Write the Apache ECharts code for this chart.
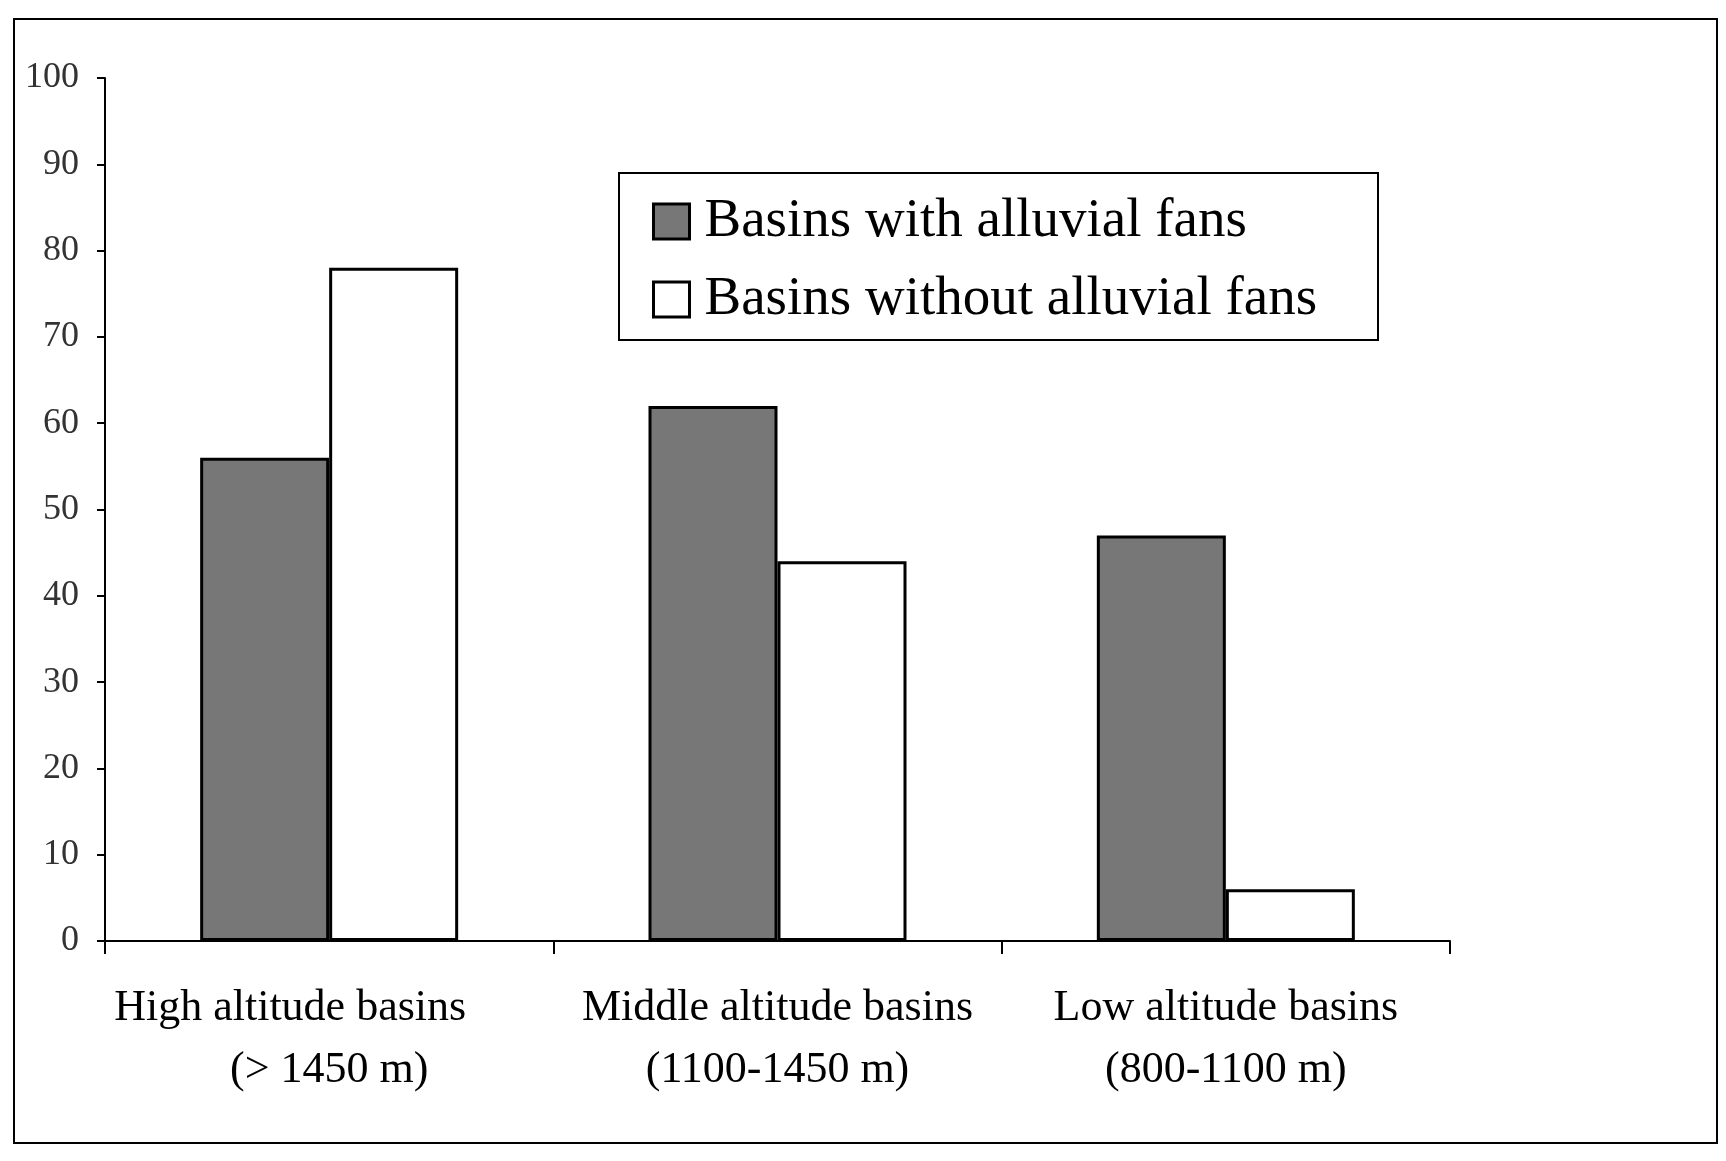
<!DOCTYPE html>
<html><head><meta charset="utf-8">
<script src="https://cdn.jsdelivr.net/npm/echarts@6/dist/echarts.min.js"></script>
<style>html,body{margin:0;padding:0;background:#fff}#c{width:1726px;height:1161px}</style>
</head><body><div id="c"></div>
<script>
const categories = ['High altitude basins\n(> 1450 m)', 'Middle altitude basins\n(1100-1450 m)', 'Low altitude basins\n(800-1100 m)'];
const seriesNames = ['Basins with alluvial fans', 'Basins without alluvial fans'];
const withFans = [56, 62, 47];
const withoutFans = [78, 44, 6];
const yTicks = [0, 10, 20, 30, 40, 50, 60, 70, 80, 90, 100];

const font = '"Liberation Serif", "Times New Roman", serif';
const chart = echarts.init(document.getElementById('c'));
chart.setOption({
  animation: false,
  backgroundColor: '#fff',
  textStyle: { fontFamily: font },
  graphic: [
    { type: 'rect', shape: { x: 14, y: 19, width: 1703, height: 1124 }, style: { fill: 'none', stroke: '#000', lineWidth: 2 }, z: 0 },
    { type: 'rect', shape: { x: 619, y: 173, width: 759, height: 167 }, style: { fill: '#fff', stroke: '#000', lineWidth: 2 }, z: 5 }
  ],
  grid: { left: 105, top: 78, right: 276, bottom: 220, containLabel: false },
  legend: {
    orient: 'vertical', left: 619, top: 173,
    padding: [21, 20, 13, 33],
    itemWidth: 36, itemHeight: 35, itemGap: 23,
    icon: 'rect',
    z: 10,
    itemStyle: { borderColor: '#000', borderWidth: 3 },
    textStyle: { fontFamily: font, fontSize: 55, color: '#000', padding: [0, 0, 0, 10], letterSpacing: 3 },
    data: seriesNames
  },
  xAxis: {
    type: 'category', data: categories,
    axisLine: { lineStyle: { color: '#000', width: 2 } },
    axisTick: { show: true, length: 13, lineStyle: { color: '#000', width: 2 } },
    axisLabel: {
      fontFamily: font, fontSize: 44, color: '#000', lineHeight: 62, margin: 36, interval: 0,
      formatter: (v, i) => {
        const parts = v.split('\n');
        return i === 0 ? '{s|' + parts[0] + '}\n' + parts[1] : v;
      },
      rich: { s: { fontFamily: font, fontSize: 44, color: '#000', lineHeight: 62, padding: [0, 78, 0, 0] } }
    },
    splitLine: { show: false }
  },
  yAxis: {
    type: 'value', min: 0, max: 100, interval: 10,
    axisLine: { show: true, lineStyle: { color: '#000', width: 2 } },
    axisTick: { show: true, length: 8, lineStyle: { color: '#000', width: 2 } },
    axisLabel: { fontFamily: font, fontSize: 36, color: '#333', margin: 26, letterSpacing: 4,
      formatter: v => yTicks.includes(v) ? String(v) : '' },
    splitLine: { show: false }
  },
  series: [
    { name: seriesNames[0], type: 'bar', data: withFans, barWidth: 129, barGap: '0%',
      itemStyle: { color: '#777777', borderColor: '#000', borderWidth: 3 } },
    { name: seriesNames[1], type: 'bar', data: withoutFans, barWidth: 129, barGap: '0%',
      itemStyle: { color: '#ffffff', borderColor: '#000', borderWidth: 3 } }
  ]
});
</script></body></html>
